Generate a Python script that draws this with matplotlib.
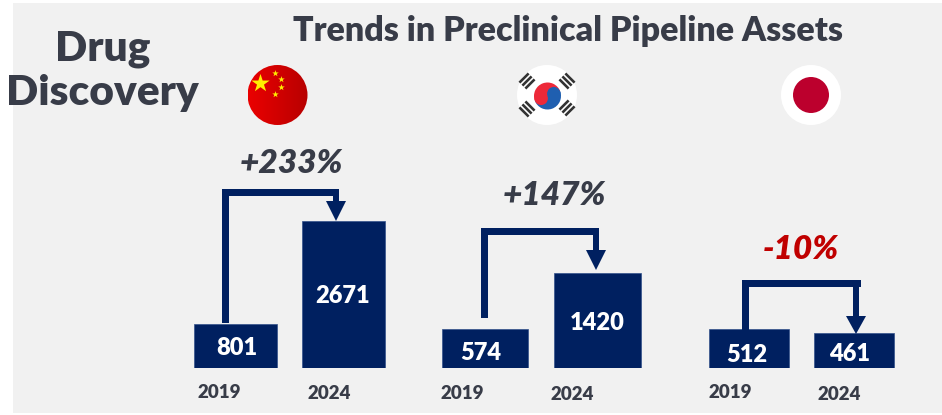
import matplotlib
matplotlib.use('Agg')
import matplotlib.pyplot as plt
import numpy as np
from matplotlib.patches import Circle, Wedge, Polygon, Rectangle
from matplotlib.transforms import Affine2D

plt.rcParams['font.family'] = ['Lato', 'DejaVu Sans']

W, H = 942, 415
NAVY = '#002060'
DARK = '#383c48'
RED = '#c00000'
BG = '#f1f1f1'
WEIGHT = 'heavy'

years = ['2019', '2024']
china = [801, 2671]
korea = [574, 1420]
japan = [512, 461]
changes = ['+233%', '+147%', '-10%']
change_colors = [DARK, DARK, RED]

# each group has its own scale, px per asset
px_per_asset = [0.0549, 0.0667, 0.0745]
centers = [(235.5, 343.5), (485, 597.5), (749, 854)]
bar_frac = [0.77, 0.765, 0.77]
BASE = 367.5
AX_H = 220

fig = plt.figure(figsize=(W / 100, H / 100), dpi=100, facecolor='white')

# background panel and all the annotations live on a pixel-coords axes
bg = fig.add_axes([0, 0, 1, 1], zorder=0)
bg.set_xlim(0, W)
bg.set_ylim(H, 0)
bg.axis('off')
bg.add_patch(Rectangle((13, 3), W - 13, 410, color=BG, lw=0))

for vals, (c0, c1), ppu, frac in zip([china, korea, japan], centers, px_per_asset, bar_frac):
    sp = c1 - c0
    ax = fig.add_axes([(c0 - sp / 2) / W, (H - BASE) / H, 2 * sp / W, AX_H / H], zorder=1)
    ax.bar([0, 1], vals, frac, color=NAVY, edgecolor='#33508a', linewidth=0.5)
    ax.set_xlim(-0.5, 1.5)
    ax.set_ylim(0, AX_H / ppu)
    ax.axis('off')

top = fig.add_axes([0, 0, 1, 1], zorder=2)
top.set_xlim(0, W)
top.set_ylim(H, 0)
top.axis('off')


def connector(x0, y0, y_top, x1, x_stem, head_top, head_tip):
    # elbow line from the 2019 bar over to the 2024 bar
    lw = 7
    top.add_patch(Rectangle((x0 - lw / 2, y_top), lw, y0 - y_top, color=NAVY, lw=0))
    top.add_patch(Rectangle((x0 - lw / 2, y_top), x1 - x0 + lw / 2, lw, color=NAVY, lw=0))
    top.add_patch(Rectangle((x_stem - 3, y_top), 6, head_top - y_top, color=NAVY, lw=0))
    top.add_patch(Polygon([(x_stem - 10, head_top), (x_stem + 10, head_top), (x_stem, head_tip)],
                          closed=True, color=NAVY, lw=0))


connector(225, 323, 189, 339, 336, 201, 221)
connector(484.5, 318, 228, 599, 596, 250, 270)
connector(745, 330, 280, 861, 856, 316, 334)

# text
top.text(568, 41, 'Trends in Preclinical Pipeline Assets', ha='center', va='baseline',
         fontsize=24.5, fontweight=WEIGHT, color=DARK)
top.text(103, 60, 'Drug', ha='center', va='baseline', fontsize=30.5, fontweight=WEIGHT, color=DARK)
top.text(102, 105, 'Discovery', ha='center', va='baseline', fontsize=30.5, fontweight=WEIGHT, color=DARK)

for x, y, s, col in zip([291, 554, 801], [173, 205, 259], changes, change_colors):
    top.text(x, y, s, ha='center', va='baseline', fontsize=24, fontweight=WEIGHT,
             style='italic', color=col)

value_pos = [[(237, 355), (343, 303)], [(481, 360), (597, 330)], [(747, 362), (850, 361)]]
for vals, pos in zip([china, korea, japan], value_pos):
    for v, (x, y) in zip(vals, pos):
        top.text(x, y, str(v), ha='center', va='baseline', fontsize=17, fontweight=WEIGHT, color='white')

year_pos = [[(219, 398), (329, 399)], [(462, 399), (572, 400)], [(730, 398), (839, 400)]]
for pos in year_pos:
    for yr, (x, y) in zip(years, pos):
        top.text(x, y, yr, ha='center', va='baseline', fontsize=13.5, fontweight=WEIGHT, color=DARK)

# china flag, slight left-to-right shading
cx, cy, r = 277.5, 95, 30
shade = np.linspace(0, 1, 64).reshape(1, -1)
cmap = matplotlib.colors.LinearSegmentedColormap.from_list('flag', ['#ea0000', '#b80000'])
im = top.imshow(shade, extent=(cx - r, cx + r, cy + r, cy - r), cmap=cmap, aspect='auto', zorder=3)
im.set_clip_path(Circle((cx, cy), r, transform=top.transData))
top.set_xlim(0, W)
top.set_ylim(H, 0)
top.scatter([260], [83], marker='*', s=190, color='#ffee00', lw=0, zorder=4)
top.scatter([274.5, 281, 281, 274.5], [73, 79, 87.5, 94], marker='*', s=24, color='#ffee00', lw=0, zorder=4)

# korea flag
cx, cy = 547, 95
top.add_patch(Circle((cx, cy), 30, color='white', lw=0, zorder=3))
tr = 13.5
tx, ty = cx + 0.5, cy + 1
top.add_patch(Wedge((tx, ty), tr, 160, 340, color='#ed2939', lw=0, zorder=4))
top.add_patch(Wedge((tx, ty), tr, -20, 160, color='#1f5fb0', lw=0, zorder=4))
dx, dy = tr / 2 * np.cos(np.radians(20)), tr / 2 * np.sin(np.radians(20))
top.add_patch(Circle((tx - dx, ty + dy), tr / 2, color='#ed2939', lw=0, zorder=5))
top.add_patch(Circle((tx + dx, ty - dy), tr / 2, color='#1f5fb0', lw=0, zorder=5))

for ang, (gx, gy) in [(-45, (527, 81)), (45, (567, 81)), (45, (527, 109)), (-45, (567, 108))]:
    rot = Affine2D().rotate_deg_around(gx, gy, ang) + top.transData
    for off in (-4.2, 0, 4.2):
        top.add_patch(Rectangle((gx - 6.5, gy + off - 1.3), 13, 2.6, color='#333333', lw=0,
                                transform=rot, zorder=4))

# japan flag
cx, cy = 811, 95
top.add_patch(Circle((cx, cy), 30, color='white', lw=0, zorder=3))
top.add_patch(Circle((cx, cy), 18, color='#bc002d', lw=0, zorder=4))

fig.savefig('out.png', dpi=100)
